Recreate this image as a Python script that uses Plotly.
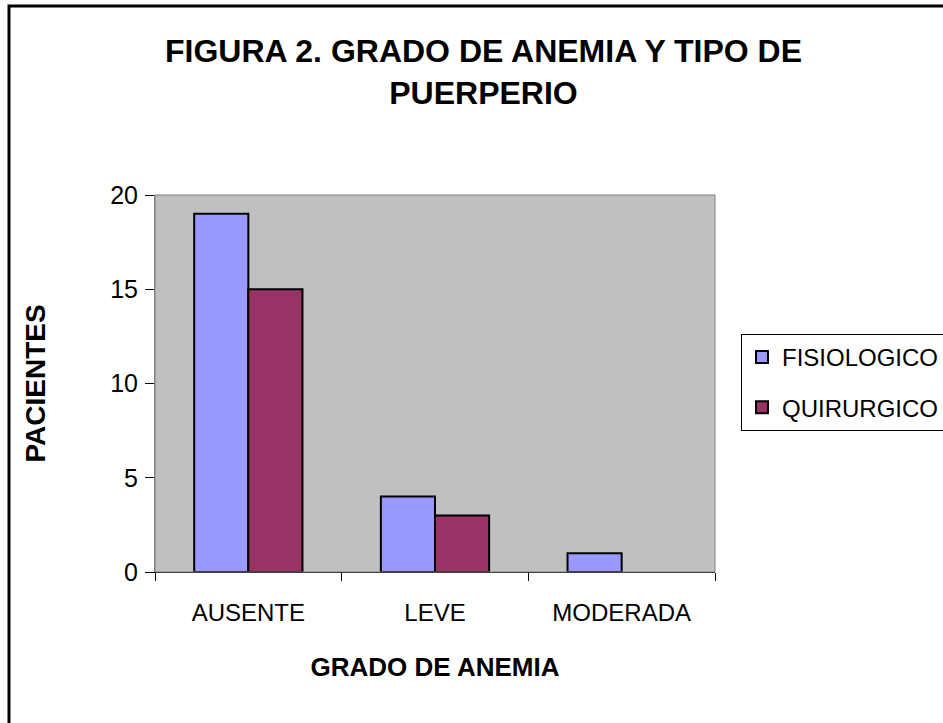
import plotly.graph_objects as go

categories = ["AUSENTE", "LEVE", "MODERADA"]
fisiologico = [19, 4, 1]
quirurgico = [15, 3, 0]
series_names = ["FISIOLOGICO", "QUIRURGICO"]
y_ticks = [0, 5, 10, 15, 20]

W, H = 943, 723
L, R, T, B = 155, 715, 195, 572  # plot area in pixels

def px(x):
    return (x - L) / (R - L)

def py(y):
    return (B - y) / (B - T)

FONT = "Liberation Sans, Arial, sans-serif"

def outline_widths(vals):
    # Excel draws no outline for a zero-height bar
    return [0 if v == 0 else 2 for v in vals]

fig = go.Figure()
fig.add_trace(go.Bar(x=categories, y=fisiologico, name=series_names[0], legendgroup="a",
                     marker=dict(color="#9999FF",
                                 line=dict(color="black", width=outline_widths(fisiologico)))))
fig.add_trace(go.Bar(x=categories, y=quirurgico, name=series_names[1], legendgroup="b",
                     marker=dict(color="#993366",
                                 line=dict(color="black", width=outline_widths(quirurgico)))))

fig.update_layout(
    width=W, height=H,
    margin=dict(l=L, r=W - R, t=T, b=H - B, autoexpand=False),
    paper_bgcolor="white",
    plot_bgcolor="#C0C0C0",
    barmode="group",
    bargap=0.42,
    bargroupgap=0,
    font=dict(family=FONT, color="black"),
    title=dict(text="<b>FIGURA 2. GRADO DE ANEMIA Y TIPO DE<br>PUERPERIO</b>",
               x=483.5 / W, xanchor="center", xref="container",
               y=1 - 62 / H, yanchor="top", yref="container",
               font=dict(size=32, family=FONT, color="black")),
    legend=dict(x=px(741), y=py(334), xanchor="left", yanchor="top",
                bordercolor="black", borderwidth=1, bgcolor="white",
                font=dict(size=24, family=FONT, color="black"),
                itemwidth=30, tracegroupgap=16),
    xaxis=dict(
        showline=True, linecolor="black", linewidth=1,
        ticks="outside", tickson="boundaries", ticklen=8, tickcolor="black",
        tickfont=dict(size=24, family=FONT),
        ticklabelstandoff=19,
        showgrid=False,
        title=dict(text="<b>GRADO DE ANEMIA</b>", font=dict(size=26, family=FONT), standoff=33),
    ),
    yaxis=dict(
        range=[0, 20], tickvals=y_ticks,
        showline=True, linecolor="#808080", linewidth=1,
        ticks="outside", ticklen=9, tickcolor="black",
        tickfont=dict(size=25, family=FONT),
        ticklabelstandoff=2,
        showgrid=False, zeroline=False,
        title=dict(text="<b>PACIENTES</b>", font=dict(size=28, family=FONT), standoff=56),
    ),
    shapes=[
        # plot area border
        dict(type="rect", xref="paper", yref="paper", x0=0, x1=1, y0=0, y1=1,
             line=dict(color="#808080", width=1), layer="above"),
        # outer chart border (right and bottom lie outside the visible image)
        dict(type="rect", xref="paper", yref="paper",
             x0=px(9), x1=px(955), y0=py(735), y1=py(6),
             line=dict(color="black", width=3)),
    ],
)

fig.write_html("out.html", config={"displayModeBar": False},
               post_script="document.body.style.margin='0';")
